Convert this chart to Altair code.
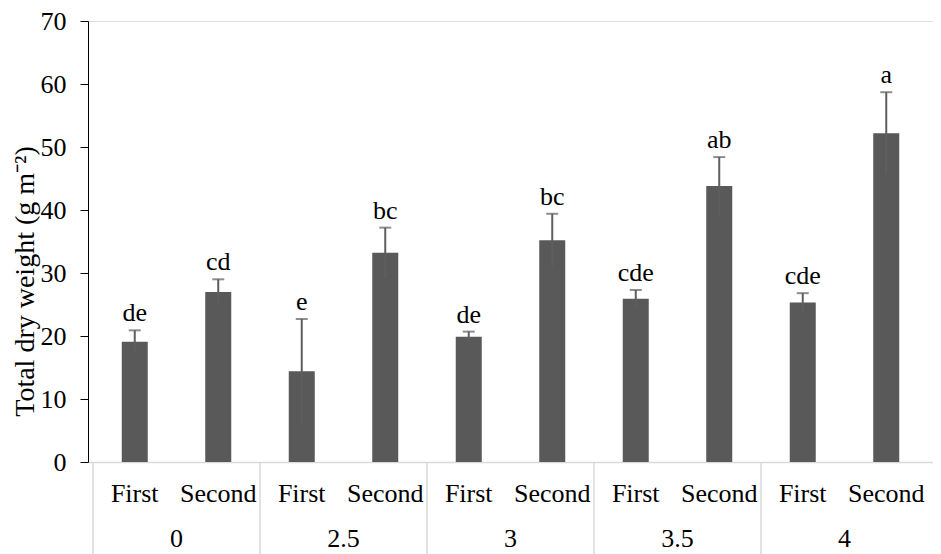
import altair as alt
import pandas as pd

doses = ["0", "2.5", "3", "3.5", "4"]
seasons = ["First", "Second"]
means = [19.1, 27.0, 14.4, 33.2, 19.9, 35.2, 25.9, 43.8, 25.3, 52.2]
errors = [1.8, 2.0, 8.3, 4.0, 0.8, 4.2, 1.4, 4.6, 1.5, 6.5]
letters = ["de", "cd", "e", "bc", "de", "bc", "cde", "ab", "cde", "a"]

rows = []
for gi, d in enumerate(doses):
    for si, s in enumerate(seasons):
        i = gi * 2 + si
        rows.append({
            "dose": d, "season": s, "pos": i + 0.5,
            "mean": means[i], "lo": means[i] - errors[i], "hi": means[i] + errors[i],
            "letter": letters[i],
        })
df = pd.DataFrame(rows)
groups = pd.DataFrame({"dose": doses, "pos": [gi * 2 + 1 for gi in range(len(doses))],
                       "edge": [gi * 2 for gi in range(len(doses))]})

FONT = "'Liberation Serif', 'Times New Roman', Times, serif"
W, H = 845, 441
BAR = "#595959"

xs = alt.Scale(domain=[0, 10], nice=False, zero=False)
ys = alt.Scale(domain=[0, 70], nice=False)

x_axis = alt.Axis(labels=False, ticks=False, grid=False, title=None,
                  domainColor="#d9d9d9", domainWidth=1.5)
y_axis = alt.Axis(values=list(range(0, 71, 10)), grid=False, tickSize=8,
                  tickColor="black", domainColor="black", labelColor="black",
                  labelFont=FONT, labelFontSize=26, labelPadding=14,
                  title="Total dry weight (g m⁻²)", titleFont=FONT,
                  titleFontSize=28, titleFontWeight="normal", titleColor="black",
                  titleAngle=-90, titleX=-49, titleY=260,
                  titleAlign="center", titleBaseline="bottom")

bars = alt.Chart(df).mark_bar(color=BAR, size=26).encode(
    x=alt.X("pos:Q", scale=xs, axis=x_axis),
    y=alt.Y("mean:Q", scale=ys, axis=y_axis),
)
err = alt.Chart(df).mark_rule(color="#5e5e5e", strokeWidth=2).encode(
    x="pos:Q", y="lo:Q", y2="hi:Q")
cap = alt.Chart(df).mark_tick(color="#5e5e5e", thickness=2, size=12, orient="horizontal").encode(
    x="pos:Q", y="hi:Q")
lab = alt.Chart(df).mark_text(font=FONT, fontSize=26, color="black",
                              baseline="alphabetic", dy=-9).encode(
    x="pos:Q", y="hi:Q", text="letter:N")
sub = alt.Chart(df).mark_text(font=FONT, fontSize=26, color="black",
                              baseline="alphabetic").encode(
    x="pos:Q", y=alt.value(481), text="season:N")
grp = alt.Chart(groups).mark_text(font=FONT, fontSize=26, color="black",
                                  baseline="alphabetic").encode(
    x="pos:Q", y=alt.value(526), text="dose:N")
sep = alt.Chart(groups).mark_rule(color="#d9d9d9", strokeWidth=1.5).encode(
    x="edge:Q", y=alt.value(H), y2=alt.value(H + 92))

chart = alt.layer(sep, bars, err, cap, lab, sub, grp).properties(
    width=W, height=H,
    autosize=alt.AutoSizeParams(type="none"),
    padding={"left": 80, "top": 13, "right": 0, "bottom": 92},
).configure_view(stroke=None).configure(font=FONT)

chart.save("out.html", embed_options={"renderer": "svg", "actions": False})
